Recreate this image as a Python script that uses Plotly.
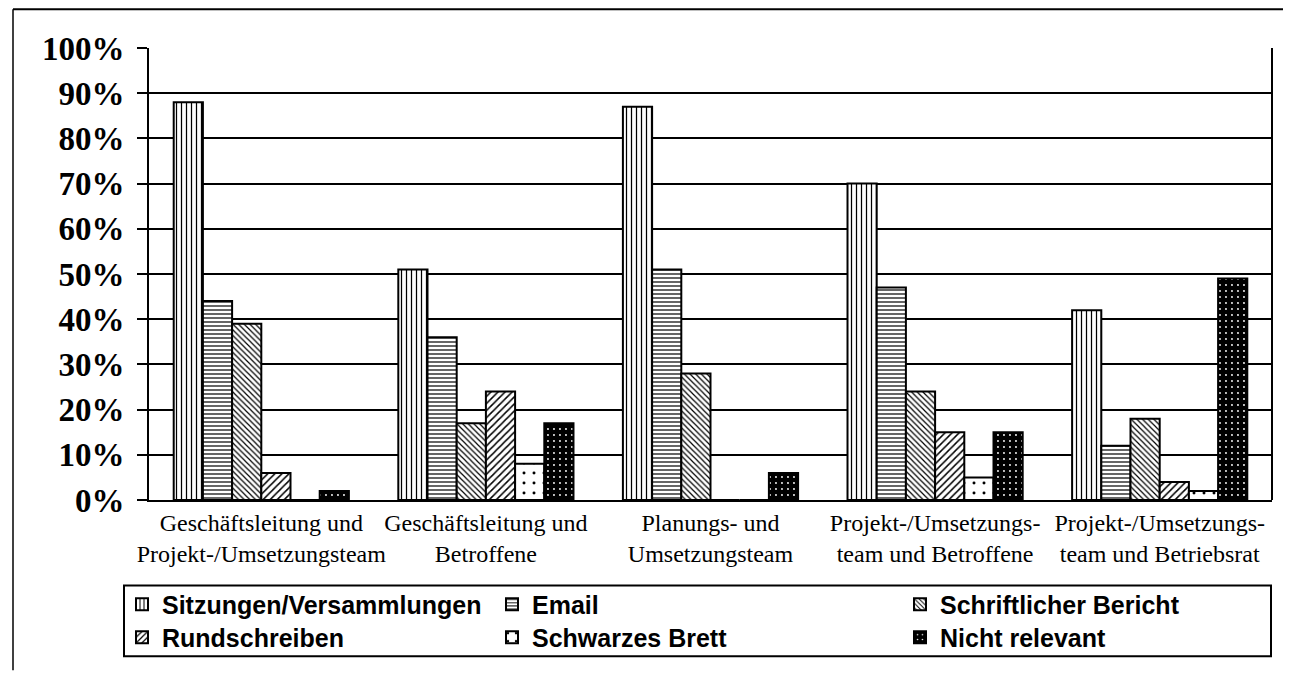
import plotly.graph_objects as go

categories = [
    "Geschäftsleitung und<br>Projekt-/Umsetzungsteam",
    "Geschäftsleitung und<br>Betroffene",
    "Planungs- und<br>Umsetzungsteam",
    "Projekt-/Umsetzungs-<br>team und Betroffene",
    "Projekt-/Umsetzungs-<br>team und Betriebsrat",
]
series_names = [
    "Sitzungen/Versammlungen",
    "Email",
    "Schriftlicher Bericht",
    "Rundschreiben",
    "Schwarzes Brett",
    "Nicht relevant",
]
sitzungen = [88, 51, 87, 70, 42]
email = [44, 36, 51, 47, 12]
schriftlich = [39, 17, 28, 24, 18]
rundschreiben = [6, 24, 0, 15, 4]
schwarzes_brett = [0, 8, 0, 5, 2]
nicht_relevant = [2, 17, 6, 15, 49]
series_values = [sitzungen, email, schriftlich, rundschreiben, schwarzes_brett, nicht_relevant]
ytick_vals = [0, 10, 20, 30, 40, 50, 60, 70, 80, 90, 100]
ytick_text = [f"{v}%" for v in ytick_vals]

styles = [
    dict(bg="white", fg="black", shape="|", size=5, sol=0.25),
    dict(bg="white", fg="black", shape="-", size=4, sol=0.3),
    dict(bg="white", fg="black", shape="\\", size=4, sol=0.3),
    dict(bg="white", fg="black", shape="/", size=5, sol=0.3),
    dict(bg="white", fg="black", shape=".", size=10, sol=0.07),
    dict(bg="black", fg="white", shape=".", size=6, sol=0.08),
]

# the page body has an 8px margin; coordinates below are page pixels
OFF = 8
W, H = 1291 - OFF, 673 - OFF
L, R, T, B = 149 - OFF, 1272 - OFF, 48 - OFF, 502 - OFF

def px(x):
    return (x - OFF - L) / (R - L)

def py(y):
    return (B - (y - OFF)) / (B - T)

# legend entry positions (page px): left of legend, row centre
legend_pos = [
    (122, 607), (492, 607), (900, 607),
    (122, 640), (492, 640), (900, 640),
]
legend_keys = ["legend"] + [f"legend{i}" for i in range(2, 7)]

fig = go.Figure()
for i, (name, vals, st) in enumerate(zip(series_names, series_values, styles)):
    fig.add_trace(go.Bar(
        name=name, x=categories, y=vals,
        marker=dict(color=st["bg"], line=dict(color="black", width=2),
                    pattern=dict(shape=st["shape"], fgcolor=st["fg"], bgcolor=st["bg"],
                                 size=st["size"], solidity=st["sol"], fillmode="replace")),
        legend=legend_keys[i],
    ))

legend_common = dict(
    orientation="h", xanchor="left", yanchor="middle",
    font=dict(family="Liberation Sans", size=25, color="black", weight="bold"),
    bgcolor="rgba(0,0,0,0)", borderwidth=0, itemclick=False, itemdoubleclick=False,
)
legends = {}
for key, (lx, ly) in zip(legend_keys, legend_pos):
    legends[key] = dict(x=px(lx), y=py(ly), **legend_common)

fig.update_layout(
    width=W, height=H,
    margin=dict(l=L, r=W - R, t=T, b=H - B),
    paper_bgcolor="white", plot_bgcolor="white",
    barmode="group", bargap=0.22, bargroupgap=0,
    showlegend=True,
    **legends,
    xaxis=dict(
        showline=True, linecolor="black", linewidth=2, mirror=False,
        tickfont=dict(family="Liberation Serif", size=24, color="black"),
        ticks="", showgrid=False, tickangle=0,
    ),
    yaxis=dict(
        range=[0, 100], tickvals=ytick_vals, ticktext=ytick_text,
        showline=True, linecolor="black", linewidth=2,
        ticks="outside", ticklen=10, tickwidth=2, tickcolor="black",
        showgrid=True, gridcolor="black", gridwidth=1.5,
        tickfont=dict(family="Liberation Serif", size=33, color="black", weight="bold"),
        ticklabelstandoff=6,
        zeroline=False,
    ),
    shapes=[
        # plot area right border
        dict(type="line", xref="paper", yref="paper", x0=1, x1=1, y0=0, y1=1,
             line=dict(color="black", width=2)),
        # legend box
        dict(type="rect", xref="paper", yref="paper", x0=px(124), x1=px(1271), y0=py(588), y1=py(659),
             line=dict(color="black", width=2), fillcolor="rgba(0,0,0,0)"),
        # outer frame (top and left)
        dict(type="line", xref="paper", yref="paper", x0=px(13), x1=px(1291), y0=py(9), y1=py(9),
             line=dict(color="black", width=2)),
        dict(type="line", xref="paper", yref="paper", x0=px(13), x1=px(13), y0=py(9), y1=py(673),
             line=dict(color="black", width=1.5)),
    ],
)

fig.write_html("out.html")
